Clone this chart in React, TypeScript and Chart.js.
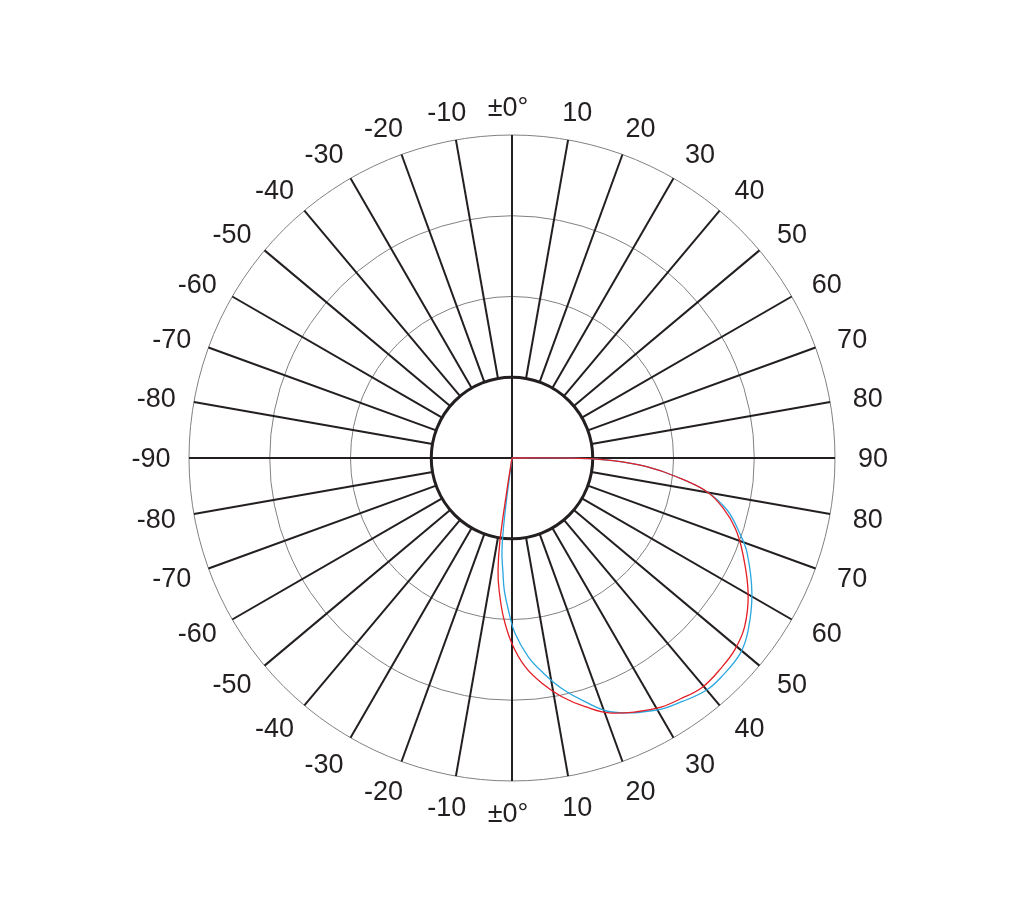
import React, { useEffect, useRef } from "react";
import { Chart, registerables } from "chart.js";

Chart.register(...registerables);

// Spokes every 10° (screen angle, clockwise from top) and their labels
const SPOKE_ANGLES = [0, 10, 20, 30, 40, 50, 60, 70, 80, 90, 100, 110, 120, 130, 140, 150, 160, 170, 180, 190, 200, 210, 220, 230, 240, 250, 260, 270, 280, 290, 300, 310, 320, 330, 340, 350];
const TICK_LABELS = ["±0°", "10", "20", "30", "40", "50", "60", "70", "80", "90", "80", "70", "60", "50", "40", "30", "20", "10", "±0°", "-10", "-20", "-30", "-40", "-50", "-60", "-70", "-80", "-90", "-80", "-70", "-60", "-50", "-40", "-30", "-20", "-10"];

// Ring values (hub circle at 100, outer ring at 400)
const RING_VALUES = [100, 200, 300, 400];
const HUB_VALUE = 100;
const AXIS_MAX = 400;

// Curves: angle measured from nadir (bottom), positive toward the right
const RED_ANGLES = [-9.2, -8.9, -8.3, -7.1, -5.6, -3.1, 0, 3.6, 7.5, 11.8, 16.4, 21.3, 30.1, 35, 39.8, 45, 49.3, 54, 60.2, 67.6, 72.5, 76.6, 80.2, 83.5, 86.3, 88.5, 89.75, 90];
const RED_VALUES = [0, 40, 103, 140, 164, 197, 230, 259, 281, 302, 321, 339, 358, 364, 369, 367, 364, 356, 337, 309, 290, 269, 245, 205, 167, 125, 84, 0];

const BLUE_ANGLES = [-7.6, -7.25, -6.2, -4.47, -3.34, -1.39, 0.98, 4.69, 8.27, 12.18, 16.68, 21.46, 29.9, 35, 40, 44, 49.5, 53.9, 60.6, 68, 71.7, 76.4, 80.2, 83.5, 86.3, 88.5, 89.75, 90];
const BLUE_VALUES = [0, 69, 115, 143, 164, 188, 217, 247, 269, 292, 315, 338, 360, 368, 375, 375, 372, 362, 341, 314, 297, 274, 245, 205, 167, 125, 84, 0];

const INK = "#231f20";

function toXY(angles: number[], values: number[]) {
  return angles.map((a, i) => {
    const t = (a * Math.PI) / 180;
    return { x: values[i] * Math.sin(t), y: -values[i] * Math.cos(t) };
  });
}

export default function App() {
  const ref = useRef<HTMLCanvasElement>(null);

  useEffect(() => {
    if (!ref.current) return;

    const gridPlugin = {
      id: "polarGrid",
      beforeDatasetsDraw(chart: any) {
        const { ctx, scales } = chart;
        const xs = scales.x;
        const ys = scales.y;
        const cx = xs.getPixelForValue(0);
        const cy = ys.getPixelForValue(0);
        const rp = (v: number) => xs.getPixelForValue(v) - cx;
        ctx.save();
        // thin rings
        ctx.strokeStyle = "#808080";
        ctx.lineWidth = 1;
        RING_VALUES.forEach((v) => {
          if (v === HUB_VALUE) return;
          ctx.beginPath();
          ctx.arc(cx, cy, rp(v), 0, Math.PI * 2);
          ctx.stroke();
        });
        // spokes
        ctx.strokeStyle = INK;
        ctx.lineWidth = 2;
        const rHub = rp(HUB_VALUE);
        const rOut = rp(AXIS_MAX);
        SPOKE_ANGLES.forEach((a) => {
          const t = (a * Math.PI) / 180;
          const s = Math.sin(t);
          const c = Math.cos(t);
          const r0 = a % 90 === 0 ? 0 : rHub;
          ctx.beginPath();
          ctx.moveTo(cx + r0 * s, cy - r0 * c);
          ctx.lineTo(cx + rOut * s, cy - rOut * c);
          ctx.stroke();
        });
        // hub circle
        ctx.lineWidth = 3;
        ctx.beginPath();
        ctx.arc(cx, cy, rHub, 0, Math.PI * 2);
        ctx.stroke();
        // labels
        ctx.fillStyle = INK;
        ctx.font = '27px "Liberation Sans", Arial, sans-serif';
        ctx.textAlign = "center";
        ctx.textBaseline = "alphabetic";
        const g = rOut + 23;
        SPOKE_ANGLES.forEach((a, i) => {
          const t = (a * Math.PI) / 180;
          const s = Math.sin(t);
          const c = Math.cos(t);
          const label = TICK_LABELS[i];
          const m = ctx.measureText(label);
          const asc = m.actualBoundingBoxAscent || 19;
          const desc = m.actualBoundingBoxDescent || 0;
          const shift = label.indexOf("°") >= 0 ? -4 : 0;
          const ox = 15 * Math.sign(s) * Math.min(1, 2 * Math.abs(s));
          const oy = c < 0 ? 8 * c * Math.abs(c) : 6 * c * c;
          const x = cx + g * s + ox + shift;
          const y = cy - (g * c + oy) + (asc - desc) / 2;
          ctx.fillText(label, x, y);
        });
        ctx.restore();
      },
    };

    const chart = new Chart(ref.current, {
      type: "scatter",
      data: {
        datasets: [
          {
            label: "red",
            data: toXY(RED_ANGLES, RED_VALUES),
            showLine: true,
            borderColor: "#e31e24",
            borderWidth: 1.3,
            pointRadius: 0,
            tension: 0.4,
            fill: false,
          },
          {
            label: "blue",
            data: toXY(BLUE_ANGLES, BLUE_VALUES),
            showLine: true,
            borderColor: "#2aa7df",
            borderWidth: 1.3,
            pointRadius: 0,
            tension: 0.4,
            fill: false,
          },
        ],
      },
      options: {
        responsive: false,
        animation: false,
        devicePixelRatio: 1,
        layout: { padding: 0 },
        plugins: {
          legend: { display: false },
          tooltip: { enabled: false },
        },
        scales: {
          x: { type: "linear", min: -634.06, max: 631.58, display: false },
          y: { type: "linear", min: -569.66, max: 567.18, display: false },
        },
      },
      plugins: [gridPlugin],
    } as any);

    return () => chart.destroy();
  }, []);

  return (
    <div style={{ position: "absolute", left: 0, top: 0, width: 1022, height: 918, background: "#fff" }}>
      <canvas ref={ref} width={1022} height={918} style={{ display: "block" }} />
    </div>
  );
}
